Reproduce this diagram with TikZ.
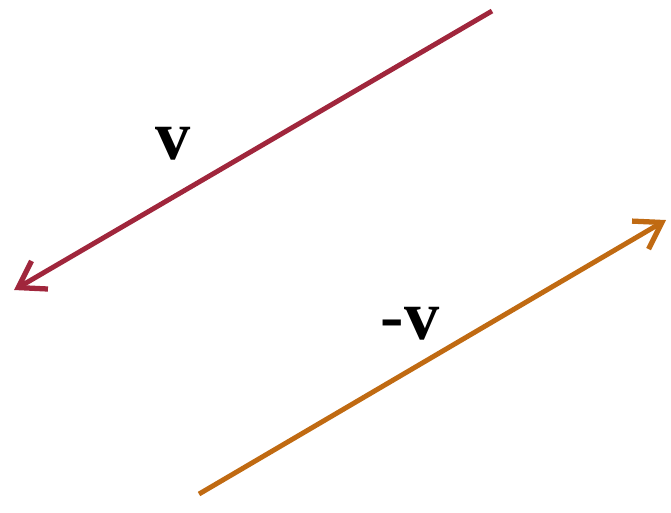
\documentclass[tikz,border=0pt]{standalone}
\usepackage{fontspec}
\setmainfont{Liberation Serif}
\usepackage{tikz}
\usetikzlibrary{arrows.meta}
\definecolor{vred}{RGB}{160,38,60}
\definecolor{vorange}{RGB}{192,106,18}

\begin{document}
\begin{tikzpicture}[x=0.02cm, y=-0.02cm,
  vec/.style={-{Straight Barb[length=5mm, width=6.5mm, line width=3pt]}, line width=2.8pt},
  lbl/.style={font=\fontsize{40}{46}\selectfont\bfseries, inner sep=0pt}]
\useasboundingbox (0,0) rectangle (671,512);
\coordinate (vstart) at (492,11);
\coordinate (vtip) at (14,290);
\coordinate (mstart) at (199,494);
\coordinate (mtip) at (666,220);
\draw[vec, vred] (vstart) -- (vtip);
\draw[vec, vorange] (mstart) -- (mtip);
\node[lbl] (vlabel) at (173,144) {v};
\node[lbl] (mlabel) at (410,324) {-v};
\end{tikzpicture}
\end{document}
